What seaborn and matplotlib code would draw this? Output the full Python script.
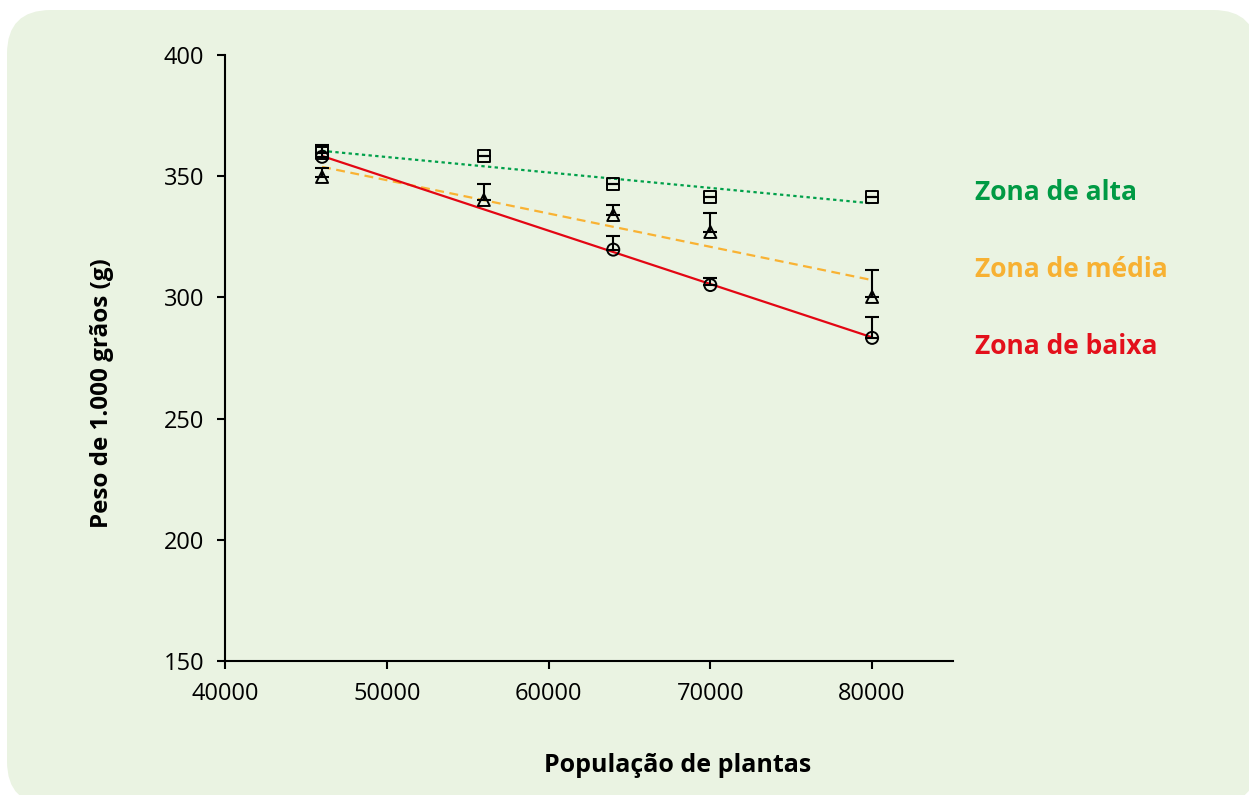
import numpy as np
import pandas as pd
import matplotlib
matplotlib.use('Agg')
import matplotlib.pyplot as plt
from matplotlib.patches import FancyBboxPatch
import seaborn as sns

# Dados
pop_alta = [46000, 56000, 64000, 70000, 80000]
peso_alta = [359.6, 358.3, 346.8, 341.5, 341.3]
erro_alta = [2.9, 0.0, 0.0, 0.0, 0.0]

pop_media = [46000, 56000, 64000, 70000, 80000]
peso_media = [349.7, 340.2, 334.0, 327.0, 300.2]
erro_media = [3.6, 6.6, 4.1, 8.0, 10.9]

pop_baixa = [46000, 64000, 70000, 80000]
peso_baixa = [358.0, 319.7, 305.1, 283.3]
erro_baixa = [4.9, 5.5, 2.9, 8.8]

zonas = ['Zona de alta', 'Zona de média', 'Zona de baixa']
cores = ['#00A04A', '#F9B233', '#E30613']
cores_texto = ['#009A44', '#F7B133', '#E3101B']
marcadores = ['s', '^', 'o']
estilos = [(0, (1.5, 1.5)), (0, (4, 2.5)), '-']

sns.set_style('ticks')
plt.rcParams['font.family'] = ['Open Sans', 'DejaVu Sans']
plt.rcParams['text.color'] = 'black'
plt.rcParams['xtick.color'] = 'black'
plt.rcParams['ytick.color'] = 'black'

fig = plt.figure(figsize=(12.49, 7.95), dpi=100, facecolor='white')
fundo = FancyBboxPatch((7 / 1249, -10 / 795), 1250 / 1249, 795 / 795,
                       boxstyle='round,pad=0,rounding_size=0.035',
                       transform=fig.transFigure, facecolor='#EAF3E2',
                       edgecolor='none', zorder=-10, mutation_aspect=1249 / 795)
fig.patches.append(fundo)

ax = fig.add_axes([225 / 1249, 1 - 661 / 795, (953 - 225) / 1249, (661 - 55) / 795])
ax.set_facecolor('none')
ax.set_zorder(5)

series = [(pop_alta, peso_alta, erro_alta),
          (pop_media, peso_media, erro_media),
          (pop_baixa, peso_baixa, erro_baixa)]

for (x, y, e), zona, cor, m, ls in zip(series, zonas, cores, marcadores, estilos):
    df = pd.DataFrame({'pop': x, 'peso': y})
    sns.regplot(data=df, x='pop', y='peso', ax=ax, ci=None, scatter=False,
                line_kws={'color': cor, 'linestyle': ls, 'linewidth': 1.6, 'zorder': 2})
    ax.errorbar(x, y, yerr=[np.zeros(len(e)), e], fmt='none', ecolor='black',
                elinewidth=1.5, capsize=5, capthick=1.5, zorder=3)
    sns.scatterplot(data=df, x='pop', y='peso', ax=ax, marker=m, s=75,
                    facecolor='none', edgecolor='black', linewidth=1.4, zorder=4)

ax.set_xlim(40000, 85000)
ax.set_ylim(150, 400)
ax.set_xticks([40000, 50000, 60000, 70000, 80000])
ax.set_yticks([150, 200, 250, 300, 350, 400])
ax.set_xlabel('')
ax.set_ylabel('')
ax.tick_params(axis='both', labelsize=17, length=6, width=1.5, color='black',
               labelcolor='black', pad=9)
for s in ['left', 'bottom']:
    ax.spines[s].set_linewidth(1.5)
    ax.spines[s].set_color('black')
sns.despine(ax=ax)

fig.text(678 / 1249, 1 - 765 / 795, 'População de plantas', ha='center', va='center',
         fontsize=18, fontweight='bold', color='black')
fig.text(102 / 1249, 1 - 393 / 795, 'Peso de 1.000 grãos (g)', ha='center', va='center',
         rotation=90, fontsize=17.5, fontweight='bold', color='black')

for zona, cor, yp in zip(zonas, cores_texto, [192, 270, 347]):
    fig.text(975 / 1249, 1 - yp / 795, zona, ha='left', va='center',
             fontsize=19, fontweight='bold', color=cor)

fig.savefig('out.png', dpi=100, facecolor='white')
